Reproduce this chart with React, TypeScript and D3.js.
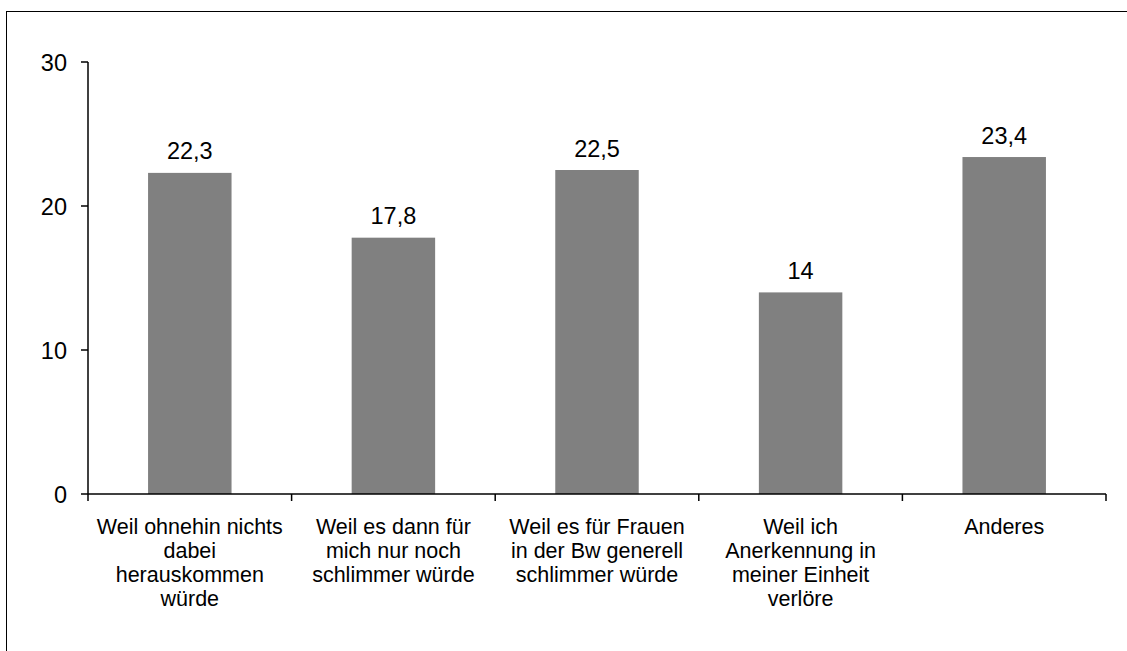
import React from "react";
import * as d3 from "d3";

const categories: string[][] = [
  ["Weil ohnehin nichts", "dabei", "herauskommen", "würde"],
  ["Weil es dann für", "mich nur noch", "schlimmer würde"],
  ["Weil es für Frauen", "in der Bw generell", "schlimmer würde"],
  ["Weil ich", "Anerkennung in", "meiner Einheit", "verlöre"],
  ["Anderes"],
];
const values: number[] = [22.3, 17.8, 22.5, 14, 23.4];
const valueLabels: string[] = ["22,3", "17,8", "22,5", "14", "23,4"];
const yTicks: number[] = [0, 10, 20, 30];

export default function App() {
  const W = 1127, H = 651;
  const left = 88, right = 1106, top = 62, bottom = 494;
  const x = d3.scaleBand<number>().domain(d3.range(values.length)).range([left, right]).paddingInner(0).paddingOuter(0);
  const y = d3.scaleLinear().domain([0, 30]).range([bottom, top]);
  const bw = x.bandwidth() * 0.41;
  const font = "Liberation Sans, Arial, sans-serif";
  return (
    <svg width={W} height={H} style={{ position: "absolute", left: 0, top: 0 }} fontFamily={font}>
      <rect x={0} y={0} width={W} height={H} fill="#fff" />
      <rect x={6.5} y={11.5} width={W + 20} height={H + 20} fill="none" stroke="#000" strokeWidth={1} />
      {values.map((v, i) => {
        const cx = (x(i) as number) + x.bandwidth() / 2;
        return (
          <g key={i}>
            <rect x={cx - bw / 2} y={y(v)} width={bw} height={bottom - y(v)} fill="#808080" />
            <text x={cx} y={y(v) - 13.5} textAnchor="middle" fontSize={23.5} fill="#000">{valueLabels[i]}</text>
            {categories[i].map((line, j) => (
              <text key={j} x={cx} y={534 + j * 24} textAnchor="middle" fontSize={21.5} fill="#000">{line}</text>
            ))}
          </g>
        );
      })}
      <line x1={left} x2={left} y1={top} y2={bottom} stroke="#000" strokeWidth={1.5} />
      <line x1={left} x2={right} y1={bottom} y2={bottom} stroke="#000" strokeWidth={1.5} />
      {yTicks.map((t) => (
        <g key={t}>
          <line x1={left - 7} x2={left} y1={y(t)} y2={y(t)} stroke="#000" strokeWidth={1.5} />
          <text x={left - 21} y={y(t) + 8.5} textAnchor="end" fontSize={23.5} fill="#000">{t}</text>
        </g>
      ))}
      {d3.range(values.length + 1).map((i) => {
        const xx = i < values.length ? (x(i) as number) : right;
        return <line key={i} x1={xx} x2={xx} y1={bottom} y2={bottom + 7} stroke="#000" strokeWidth={1.5} />;
      })}
    </svg>
  );
}
